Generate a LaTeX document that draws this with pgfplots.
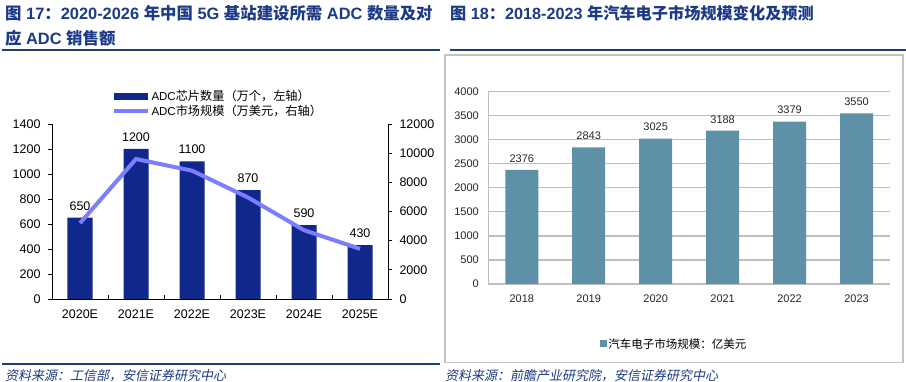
\documentclass[border=0pt]{standalone}
\usepackage{pgfplots}
\pgfplotsset{compat=1.18}
\usepackage{fontspec}
\setmainfont{Liberation Sans}
\newfontfamily\cjk{Noto Sans CJK SC}
\newfontfamily\cjkL{Noto Sans CJK SC}[Scale=1.06]
\newfontfamily\cjki{Noto Sans CJK SC}[FakeSlant=0.2]
\newcommand\C[1]{{\cjk #1}}
\newcommand\CL[1]{{\cjkL #1}}
\definecolor{navy}{RGB}{16,40,140}
\definecolor{linepurple}{RGB}{125,125,255}
\definecolor{steel}{RGB}{94,144,168}
\definecolor{titleblue}{RGB}{28,58,135}
\definecolor{rulecolor}{RGB}{30,60,125}
\definecolor{gridgray}{RGB}{190,190,190}
\definecolor{boxgray}{RGB}{195,195,195}
\pgfplotsset{/pgf/number format/.cd, 1000 sep={}, assume math mode=true}
\begin{document}
\begin{tikzpicture}[x=1pt,y=1pt]
\path[use as bounding box] (0,0) rectangle (906,382);
% titles
\node[anchor=west, text=titleblue, font=\fontsize{16.4}{19}\selectfont\bfseries, inner sep=0] at (5,369)
  {\C{图} 17\C{：}2020-2026 \C{年中国} 5G \C{基站建设所需} ADC \C{数量及对}};
\node[anchor=west, text=titleblue, font=\fontsize{16.4}{19}\selectfont\bfseries, inner sep=0] at (5,344)
  {\C{应} ADC \C{销售额}};
\node[anchor=west, text=titleblue, font=\fontsize{16.2}{19}\selectfont\bfseries, inner sep=0] at (450,369)
  {\C{图} 18\C{：}2018-2023 \C{年汽车电子市场规模变化及预测}};
\draw[rulecolor, line width=1.2pt] (2,332) -- (440,332);
\draw[rulecolor, line width=1.2pt] (450,332) -- (906,332);
\draw[rulecolor, line width=1.2pt] (2,18) -- (440,18);
\draw[boxgray, line width=1.2pt] (445,327) rectangle (903,19.5);
\node[anchor=west, text=titleblue, font=\cjki\fontsize{13}{15}\selectfont, inner sep=0] at (5,6)
  {资料来源：工信部，安信证券研究中心};
\node[anchor=west, text=titleblue, font=\cjki\fontsize{13}{15}\selectfont, inner sep=0] at (445,6)
  {资料来源：前瞻产业研究院，安信证券研究中心};

% left chart: bars
\begin{axis}[
  at={(52pt,83pt)}, anchor=south west, width=336pt, height=175pt, scale only axis,
  xmin=-0.5, xmax=5.5, ymin=0, ymax=1400,
  axis x line*=bottom, axis y line*=left,
  axis line style={black, line width=0.8pt, -},
  xtick={0,...,5}, xticklabels={2020E,2021E,2022E,2023E,2024E,2025E},
  xtick style={draw=none},
  ytick={0,200,...,1400}, ytick align=outside, major tick length=4pt,
  ytick style={black, line width=0.8pt},
  tick label style={font=\fontsize{12.5}{14}\selectfont},
  xticklabel style={yshift=-7pt},
  yticklabel style={xshift=-4pt},
  scaled y ticks=false,
  legend style={at={(axis description cs:0.178,1.203)}, anchor=north west, draw=none, fill=none,
    inner sep=0pt, row sep=0pt, nodes={inner sep=1.5pt},
    font=\fontsize{11.5}{13}\selectfont},
  legend cell align=left,
]
\addplot[ybar, bar width=25pt, fill=navy, draw=none,
  nodes near coords, nodes near coords style={font=\fontsize{12.5}{14}\selectfont, black, yshift=4pt},
  legend image code/.code={\fill[navy] (0pt,-3.5pt) rectangle (34pt,3.5pt);}]
  coordinates {(0,650) (1,1200) (2,1100) (3,870) (4,590) (5,430)};
\addlegendentry{ADC\CL{芯片数量（万个，左轴）}}
\addlegendimage{legend image code/.code={\draw[linepurple, line width=4pt] (0pt,0pt) -- (34pt,0pt);}}
\addlegendentry{ADC\CL{市场规模（万美元，右轴）}}
\end{axis}

% left chart: line on right axis
\begin{axis}[
  at={(52pt,83pt)}, anchor=south west, width=336pt, height=175pt, scale only axis,
  xmin=-0.5, xmax=5.5, ymin=0, ymax=12000,
  axis x line*=bottom, axis y line*=right,
  axis line style={black, line width=0.8pt, -},
  xtick={0.5,1.5,2.5,3.5,4.5}, xticklabels={},
  xtick align=inside, ytick align=outside, major tick length=4pt,
  tick style={black, line width=0.8pt},
  ytick={0,2000,...,12000},
  tick label style={font=\fontsize{12.5}{14}\selectfont},
  yticklabel style={xshift=4pt},
  scaled y ticks=false,
]
\addplot[linepurple, line width=4pt] coordinates {(0,5200) (1,9600) (2,8800) (3,6960) (4,4720) (5,3440)};
\end{axis}

% right chart
\begin{axis}[
  at={(488.3pt,98pt)}, anchor=south west, width=401.7pt, height=192.3pt, scale only axis,
  xmin=-0.5, xmax=5.5, ymin=0, ymax=4000,
  axis x line*=bottom, axis y line*=left,
  axis line style={gridgray, line width=1.2pt, -},
  ymajorgrids, grid style={gridgray, line width=1.2pt},
  xtick={0,...,5}, xticklabels={2018,2019,2020,2021,2022,2023},
  ytick={0,500,...,4000}, major tick length=0pt,
  tick label style={font=\fontsize{11}{13}\selectfont, black!85},
  xticklabel style={yshift=-7pt},
  yticklabel style={xshift=-6pt},
  scaled y ticks=false,
  legend style={at={(axis description cs:0.462,-0.312)}, anchor=center, draw=none, fill=none,
    inner sep=0pt, nodes={inner sep=1pt},
    font=\fontsize{11.5}{13}\selectfont},
]
\addplot[ybar, bar width=33pt, fill=steel, draw=none,
  nodes near coords, nodes near coords style={font=\fontsize{11}{13}\selectfont, black!85, yshift=4pt},
  legend image code/.code={\fill[steel] (0pt,-3.5pt) rectangle (7pt,3.5pt);}]
  coordinates {(0,2376) (1,2843) (2,3025) (3,3188) (4,3379) (5,3550)};
\addlegendentry{\C{汽车电子市场规模：亿美元}}
\end{axis}
\end{tikzpicture}
\end{document}
